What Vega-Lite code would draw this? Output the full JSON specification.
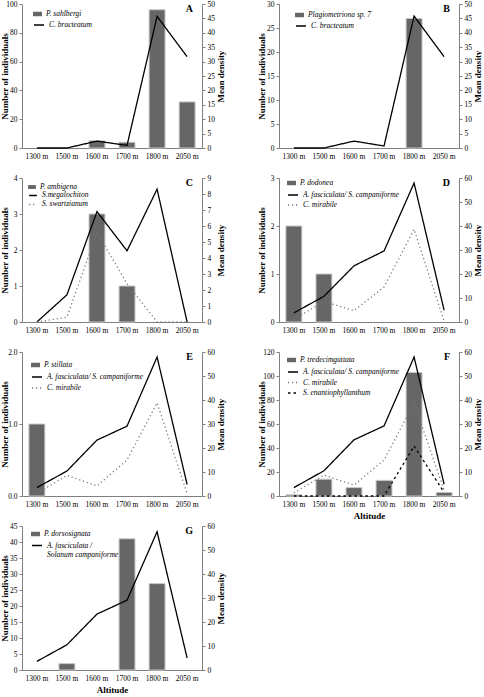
{
"$schema":"https://vega.github.io/schema/vega-lite/v6.json",
"padding":{"left":0,"top":0,"right":0,"bottom":0},
"background":"white",
"bounds":"flush",
"columns":2,
"spacing":{"row":30,"column":77},
"data":{"values":[
{"p":"A","k":"b","s":"P. sahlbergi","a":"1600 m","v":5},
{"p":"A","k":"b","s":"P. sahlbergi","a":"1700 m","v":4},
{"p":"A","k":"b","s":"P. sahlbergi","a":"1800 m","v":96},
{"p":"A","k":"b","s":"P. sahlbergi","a":"2050 m","v":32},
{"p":"A","k":"l","s":"C. bracteatum","a":"1300 m","v":0},
{"p":"A","k":"l","s":"C. bracteatum","a":"1500 m","v":0},
{"p":"A","k":"l","s":"C. bracteatum","a":"1600 m","v":2.4},
{"p":"A","k":"l","s":"C. bracteatum","a":"1700 m","v":0.9},
{"p":"A","k":"l","s":"C. bracteatum","a":"1800 m","v":45.7},
{"p":"A","k":"l","s":"C. bracteatum","a":"2050 m","v":31.7},
{"p":"B","k":"b","s":"Plagiometriona sp. 7","a":"1800 m","v":27},
{"p":"B","k":"l","s":"C. bracteatum","a":"1300 m","v":0},
{"p":"B","k":"l","s":"C. bracteatum","a":"1500 m","v":0},
{"p":"B","k":"l","s":"C. bracteatum","a":"1600 m","v":2.4},
{"p":"B","k":"l","s":"C. bracteatum","a":"1700 m","v":0.7},
{"p":"B","k":"l","s":"C. bracteatum","a":"1800 m","v":45.8},
{"p":"B","k":"l","s":"C. bracteatum","a":"2050 m","v":31.7},
{"p":"C","k":"b","s":"P. ambigena","a":"1600 m","v":3},
{"p":"C","k":"b","s":"P. ambigena","a":"1700 m","v":1},
{"p":"C","k":"l","s":"S.megalochiton","a":"1300 m","v":0},
{"p":"C","k":"l","s":"S.megalochiton","a":"1500 m","v":1.7},
{"p":"C","k":"l","s":"S.megalochiton","a":"1600 m","v":6.9},
{"p":"C","k":"l","s":"S.megalochiton","a":"1700 m","v":4.45},
{"p":"C","k":"l","s":"S.megalochiton","a":"1800 m","v":8.3},
{"p":"C","k":"l","s":"S.megalochiton","a":"2050 m","v":0},
{"p":"C","k":"l","s":"S. swartzianum","a":"1300 m","v":0},
{"p":"C","k":"l","s":"S. swartzianum","a":"1500 m","v":0.3},
{"p":"C","k":"l","s":"S. swartzianum","a":"1600 m","v":5.6},
{"p":"C","k":"l","s":"S. swartzianum","a":"1700 m","v":2.4},
{"p":"C","k":"l","s":"S. swartzianum","a":"1800 m","v":0},
{"p":"C","k":"l","s":"S. swartzianum","a":"2050 m","v":0},
{"p":"D","k":"b","s":"P. dodonea","a":"1300 m","v":2},
{"p":"D","k":"b","s":"P. dodonea","a":"1500 m","v":1},
{"p":"D","k":"l","s":"A. fasciculata/ S. campaniforme","a":"1300 m","v":3.8},
{"p":"D","k":"l","s":"A. fasciculata/ S. campaniforme","a":"1500 m","v":10.7},
{"p":"D","k":"l","s":"A. fasciculata/ S. campaniforme","a":"1600 m","v":23.4},
{"p":"D","k":"l","s":"A. fasciculata/ S. campaniforme","a":"1700 m","v":29.6},
{"p":"D","k":"l","s":"A. fasciculata/ S. campaniforme","a":"1800 m","v":57.9},
{"p":"D","k":"l","s":"A. fasciculata/ S. campaniforme","a":"2050 m","v":4.9},
{"p":"D","k":"l","s":"C. mirabile","a":"1300 m","v":1.1},
{"p":"D","k":"l","s":"C. mirabile","a":"1500 m","v":8.6},
{"p":"D","k":"l","s":"C. mirabile","a":"1600 m","v":4.7},
{"p":"D","k":"l","s":"C. mirabile","a":"1700 m","v":14.6},
{"p":"D","k":"l","s":"C. mirabile","a":"1800 m","v":38.6},
{"p":"D","k":"l","s":"C. mirabile","a":"2050 m","v":0.3},
{"p":"E","k":"b","s":"P. stillata","a":"1300 m","v":1},
{"p":"E","k":"l","s":"A. fasciculata/ S. campaniforme","a":"1300 m","v":3.5},
{"p":"E","k":"l","s":"A. fasciculata/ S. campaniforme","a":"1500 m","v":10.4},
{"p":"E","k":"l","s":"A. fasciculata/ S. campaniforme","a":"1600 m","v":23.3},
{"p":"E","k":"l","s":"A. fasciculata/ S. campaniforme","a":"1700 m","v":29.1},
{"p":"E","k":"l","s":"A. fasciculata/ S. campaniforme","a":"1800 m","v":57.9},
{"p":"E","k":"l","s":"A. fasciculata/ S. campaniforme","a":"2050 m","v":4.8},
{"p":"E","k":"l","s":"C. mirabile","a":"1300 m","v":1.1},
{"p":"E","k":"l","s":"C. mirabile","a":"1500 m","v":8.6},
{"p":"E","k":"l","s":"C. mirabile","a":"1600 m","v":4.2},
{"p":"E","k":"l","s":"C. mirabile","a":"1700 m","v":15},
{"p":"E","k":"l","s":"C. mirabile","a":"1800 m","v":38.8},
{"p":"E","k":"l","s":"C. mirabile","a":"2050 m","v":1},
{"p":"F","k":"b","s":"P. tredecimguttata","a":"1300 m","v":1},
{"p":"F","k":"b","s":"P. tredecimguttata","a":"1500 m","v":14},
{"p":"F","k":"b","s":"P. tredecimguttata","a":"1600 m","v":7},
{"p":"F","k":"b","s":"P. tredecimguttata","a":"1700 m","v":13},
{"p":"F","k":"b","s":"P. tredecimguttata","a":"1800 m","v":103},
{"p":"F","k":"b","s":"P. tredecimguttata","a":"2050 m","v":3},
{"p":"F","k":"l","s":"A. fasciculata/ S. campaniforme","a":"1300 m","v":3.5},
{"p":"F","k":"l","s":"A. fasciculata/ S. campaniforme","a":"1500 m","v":10.5},
{"p":"F","k":"l","s":"A. fasciculata/ S. campaniforme","a":"1600 m","v":23.4},
{"p":"F","k":"l","s":"A. fasciculata/ S. campaniforme","a":"1700 m","v":29.2},
{"p":"F","k":"l","s":"A. fasciculata/ S. campaniforme","a":"1800 m","v":57.9},
{"p":"F","k":"l","s":"A. fasciculata/ S. campaniforme","a":"2050 m","v":4.9},
{"p":"F","k":"l","s":"C. mirabile","a":"1300 m","v":1.3},
{"p":"F","k":"l","s":"C. mirabile","a":"1500 m","v":8.7},
{"p":"F","k":"l","s":"C. mirabile","a":"1600 m","v":4.5},
{"p":"F","k":"l","s":"C. mirabile","a":"1700 m","v":15},
{"p":"F","k":"l","s":"C. mirabile","a":"1800 m","v":38.7},
{"p":"F","k":"l","s":"C. mirabile","a":"2050 m","v":2.4},
{"p":"F","k":"l","s":"S. enantiophyllanthum","a":"1300 m","v":0},
{"p":"F","k":"l","s":"S. enantiophyllanthum","a":"1500 m","v":0},
{"p":"F","k":"l","s":"S. enantiophyllanthum","a":"1600 m","v":0},
{"p":"F","k":"l","s":"S. enantiophyllanthum","a":"1700 m","v":0},
{"p":"F","k":"l","s":"S. enantiophyllanthum","a":"1800 m","v":20.8},
{"p":"F","k":"l","s":"S. enantiophyllanthum","a":"2050 m","v":1.5},
{"p":"G","k":"b","s":"P. dorsosignata","a":"1500 m","v":2},
{"p":"G","k":"b","s":"P. dorsosignata","a":"1700 m","v":41},
{"p":"G","k":"b","s":"P. dorsosignata","a":"1800 m","v":27},
{"p":"G","k":"l","s":"A. fasciculata / Solanum campaniforme","a":"1300 m","v":3.6},
{"p":"G","k":"l","s":"A. fasciculata / Solanum campaniforme","a":"1500 m","v":10.5},
{"p":"G","k":"l","s":"A. fasciculata / Solanum campaniforme","a":"1600 m","v":23.3},
{"p":"G","k":"l","s":"A. fasciculata / Solanum campaniforme","a":"1700 m","v":29.1},
{"p":"G","k":"l","s":"A. fasciculata / Solanum campaniforme","a":"1800 m","v":57.6},
{"p":"G","k":"l","s":"A. fasciculata / Solanum campaniforme","a":"2050 m","v":5}
]},
"concat":[
{"width":180,"height":144,
 "title":{"text":"A"},
 "transform":[{"filter":"datum.p == 'A'"}],
 "layer":[
  {"transform":[{"filter":"datum.k == 'b'"}],
   "mark":{"type":"bar","stroke":"#c8c8c8","strokeWidth":1},
   "encoding":{
    "x":{"field":"a","type":"ordinal","scale":{"domain":["1300 m","1500 m","1600 m","1700 m","1800 m","2050 m"],"paddingInner":0.47,"paddingOuter":0.23},"axis":{"title":null}},
    "y":{"field":"v","type":"quantitative","scale":{"domain":[0,100],"nice":false},"axis":{"orient":"left","values":[0,20,40,60,80,100],"title":"Number of individuals"}},
    "fill":{"field":"s","type":"nominal","scale":{"range":["#666666"]},"legend":{"title":null,"orient":"none","legendX":11,"legendY":5.5,"symbolType":"M-1,-0.5H1V0.5H-1Z","symbolSize":80,"symbolStrokeWidth":0}}}},
  {"transform":[{"filter":"datum.k == 'l'"}],
   "mark":{"type":"line","strokeWidth":1.3},
   "encoding":{
    "x":{"field":"a","type":"ordinal","bandPosition":0.5,"scale":{"domain":["1300 m","1500 m","1600 m","1700 m","1800 m","2050 m"],"paddingInner":0.47,"paddingOuter":0.23},"axis":{"title":null}},
    "y":{"field":"v","type":"quantitative","scale":{"domain":[0,50],"nice":false},"axis":{"orient":"right","values":[0,5,10,15,20,25,30,35,40,45,50],"title":"Mean density"}},
    "strokeDash":{"field":"s","type":"nominal","scale":{"domain":["C. bracteatum"],"range":[[1,0]]},"legend":{"title":null,"orient":"none","legendX":11,"legendY":15,"symbolType":"stroke","symbolSize":100}},
    "stroke":{"field":"s","type":"nominal","scale":{"domain":["C. bracteatum"],"range":["#000000"]},"legend":{"title":null,"orient":"none","legendX":11,"legendY":15,"symbolType":"stroke","symbolSize":100}}}}
 ],
 "resolve":{"scale":{"y":"independent"}}},
{"width":180,"height":144,
 "title":{"text":"B"},
 "transform":[{"filter":"datum.p == 'B'"}],
 "layer":[
  {"transform":[{"filter":"datum.k == 'b'"}],
   "mark":{"type":"bar","stroke":"#c8c8c8","strokeWidth":1},
   "encoding":{
    "x":{"field":"a","type":"ordinal","scale":{"domain":["1300 m","1500 m","1600 m","1700 m","1800 m","2050 m"],"paddingInner":0.47,"paddingOuter":0.23},"axis":{"title":null}},
    "y":{"field":"v","type":"quantitative","scale":{"domain":[0,30],"nice":false},"axis":{"orient":"left","values":[0,5,10,15,20,25,30],"title":"Number of individuals"}},
    "fill":{"field":"s","type":"nominal","scale":{"range":["#666666"]},"legend":{"title":null,"orient":"none","legendX":16,"legendY":6.5,"symbolType":"M-1,-0.5H1V0.5H-1Z","symbolSize":80,"symbolStrokeWidth":0}}}},
  {"transform":[{"filter":"datum.k == 'l'"}],
   "mark":{"type":"line","strokeWidth":1.3},
   "encoding":{
    "x":{"field":"a","type":"ordinal","bandPosition":0.5,"scale":{"domain":["1300 m","1500 m","1600 m","1700 m","1800 m","2050 m"],"paddingInner":0.47,"paddingOuter":0.23},"axis":{"title":null}},
    "y":{"field":"v","type":"quantitative","scale":{"domain":[0,50],"nice":false},"axis":{"orient":"right","values":[0,5,10,15,20,25,30,35,40,45,50],"title":"Mean density"}},
    "strokeDash":{"field":"s","type":"nominal","scale":{"domain":["C. bracteatum"],"range":[[1,0]]},"legend":{"title":null,"orient":"none","legendX":16,"legendY":16,"symbolType":"stroke","symbolSize":100}},
    "stroke":{"field":"s","type":"nominal","scale":{"domain":["C. bracteatum"],"range":["#000000"]},"legend":{"title":null,"orient":"none","legendX":16,"legendY":16,"symbolType":"stroke","symbolSize":100}}}}
 ],
 "resolve":{"scale":{"y":"independent"}}},
{"width":180,"height":144,
 "title":{"text":"C"},
 "transform":[{"filter":"datum.p == 'C'"}],
 "layer":[
  {"transform":[{"filter":"datum.k == 'b'"}],
   "mark":{"type":"bar","stroke":"#c8c8c8","strokeWidth":1},
   "encoding":{
    "x":{"field":"a","type":"ordinal","scale":{"domain":["1300 m","1500 m","1600 m","1700 m","1800 m","2050 m"],"paddingInner":0.47,"paddingOuter":0.23},"axis":{"title":null}},
    "y":{"field":"v","type":"quantitative","scale":{"domain":[0,4],"nice":false},"axis":{"orient":"left","values":[0,1,2,3,4],"title":"Number of individuals"}},
    "fill":{"field":"s","type":"nominal","scale":{"range":["#666666"]},"legend":{"title":null,"orient":"none","legendX":6,"legendY":5,"symbolType":"M-1,-0.5H1V0.5H-1Z","symbolSize":60,"symbolStrokeWidth":0}}}},
  {"transform":[{"filter":"datum.k == 'l'"}],
   "mark":{"type":"line","strokeWidth":1.3},
   "encoding":{
    "x":{"field":"a","type":"ordinal","bandPosition":0.5,"scale":{"domain":["1300 m","1500 m","1600 m","1700 m","1800 m","2050 m"],"paddingInner":0.47,"paddingOuter":0.23},"axis":{"title":null}},
    "y":{"field":"v","type":"quantitative","scale":{"domain":[0,9],"nice":false},"axis":{"orient":"right","values":[0,1,2,3,4,5,6,7,8,9],"title":"Mean density"}},
    "strokeDash":{"field":"s","type":"nominal","scale":{"domain":["S.megalochiton","S. swartzianum"],"range":[[1,0],[1.2,2.8]]},"legend":{"title":null,"orient":"none","legendX":6,"legendY":12.4,"symbolType":"stroke","symbolSize":60,"rowPadding":0}},
    "stroke":{"field":"s","type":"nominal","scale":{"domain":["S.megalochiton","S. swartzianum"],"range":["#000000","#777777"]},"legend":{"title":null,"orient":"none","legendX":6,"legendY":12.4,"symbolType":"stroke","symbolSize":60,"rowPadding":0}}}}
 ],
 "resolve":{"scale":{"y":"independent"}}},
{"width":180,"height":144,
 "title":{"text":"D"},
 "transform":[{"filter":"datum.p == 'D'"}],
 "layer":[
  {"transform":[{"filter":"datum.k == 'b'"}],
   "mark":{"type":"bar","stroke":"#c8c8c8","strokeWidth":1},
   "encoding":{
    "x":{"field":"a","type":"ordinal","scale":{"domain":["1300 m","1500 m","1600 m","1700 m","1800 m","2050 m"],"paddingInner":0.47,"paddingOuter":0.23},"axis":{"title":null}},
    "y":{"field":"v","type":"quantitative","scale":{"domain":[0,3],"nice":false},"axis":{"orient":"left","values":[0,1,2,3],"title":"Number of individuals"}},
    "fill":{"field":"s","type":"nominal","scale":{"range":["#666666"]},"legend":{"title":null,"orient":"none","legendX":8,"legendY":0.5,"symbolType":"M-1,-0.5H1V0.5H-1Z","symbolSize":80,"symbolStrokeWidth":0}}}},
  {"transform":[{"filter":"datum.k == 'l'"}],
   "mark":{"type":"line","strokeWidth":1.3},
   "encoding":{
    "x":{"field":"a","type":"ordinal","bandPosition":0.5,"scale":{"domain":["1300 m","1500 m","1600 m","1700 m","1800 m","2050 m"],"paddingInner":0.47,"paddingOuter":0.23},"axis":{"title":null}},
    "y":{"field":"v","type":"quantitative","scale":{"domain":[0,60],"nice":false},"axis":{"orient":"right","values":[0,10,20,30,40,50,60],"title":"Mean density"}},
    "strokeDash":{"field":"s","type":"nominal","scale":{"domain":["A. fasciculata/ S. campaniforme","C. mirabile"],"range":[[1,0],[1.2,2.8]]},"legend":{"title":null,"orient":"none","legendX":8,"legendY":11,"symbolType":"stroke","symbolSize":100,"rowPadding":0}},
    "stroke":{"field":"s","type":"nominal","scale":{"domain":["A. fasciculata/ S. campaniforme","C. mirabile"],"range":["#000000","#777777"]},"legend":{"title":null,"orient":"none","legendX":8,"legendY":11,"symbolType":"stroke","symbolSize":100,"rowPadding":0}}}}
 ],
 "resolve":{"scale":{"y":"independent"}}},
{"width":180,"height":144,
 "title":{"text":"E"},
 "transform":[{"filter":"datum.p == 'E'"}],
 "layer":[
  {"transform":[{"filter":"datum.k == 'b'"}],
   "mark":{"type":"bar","stroke":"#c8c8c8","strokeWidth":1},
   "encoding":{
    "x":{"field":"a","type":"ordinal","scale":{"domain":["1300 m","1500 m","1600 m","1700 m","1800 m","2050 m"],"paddingInner":0.47,"paddingOuter":0.23},"axis":{"title":null}},
    "y":{"field":"v","type":"quantitative","scale":{"domain":[0,2],"nice":false},"axis":{"orient":"left","values":[0,1,2],"title":"Number of individuals"}},
    "fill":{"field":"s","type":"nominal","scale":{"range":["#666666"]},"legend":{"title":null,"orient":"none","legendX":9,"legendY":8.5,"symbolType":"M-1,-0.5H1V0.5H-1Z","symbolSize":80,"symbolStrokeWidth":0}}}},
  {"transform":[{"filter":"datum.k == 'l'"}],
   "mark":{"type":"line","strokeWidth":1.3},
   "encoding":{
    "x":{"field":"a","type":"ordinal","bandPosition":0.5,"scale":{"domain":["1300 m","1500 m","1600 m","1700 m","1800 m","2050 m"],"paddingInner":0.47,"paddingOuter":0.23},"axis":{"title":null}},
    "y":{"field":"v","type":"quantitative","scale":{"domain":[0,60],"nice":false},"axis":{"orient":"right","values":[0,10,20,30,40,50,60],"title":"Mean density"}},
    "strokeDash":{"field":"s","type":"nominal","scale":{"domain":["A. fasciculata/ S. campaniforme","C. mirabile"],"range":[[1,0],[1.2,2.8]]},"legend":{"title":null,"orient":"none","legendX":9,"legendY":19,"symbolType":"stroke","symbolSize":100,"rowPadding":1}},
    "stroke":{"field":"s","type":"nominal","scale":{"domain":["A. fasciculata/ S. campaniforme","C. mirabile"],"range":["#000000","#777777"]},"legend":{"title":null,"orient":"none","legendX":9,"legendY":19,"symbolType":"stroke","symbolSize":100,"rowPadding":1}}}}
 ],
 "resolve":{"scale":{"y":"independent"}}},
{"width":180,"height":144,
 "title":{"text":"F"},
 "transform":[{"filter":"datum.p == 'F'"}],
 "layer":[
  {"transform":[{"filter":"datum.k == 'b'"}],
   "mark":{"type":"bar","stroke":"#c8c8c8","strokeWidth":1},
   "encoding":{
    "x":{"field":"a","type":"ordinal","scale":{"domain":["1300 m","1500 m","1600 m","1700 m","1800 m","2050 m"],"paddingInner":0.47,"paddingOuter":0.23},"axis":{"title":"Altitude"}},
    "y":{"field":"v","type":"quantitative","scale":{"domain":[0,120],"nice":false},"axis":{"orient":"left","values":[0,20,40,60,80,100,120],"title":"Number of individuals"}},
    "fill":{"field":"s","type":"nominal","scale":{"range":["#666666"]},"legend":{"title":null,"orient":"none","legendX":8,"legendY":3.5,"symbolType":"M-1,-0.5H1V0.5H-1Z","symbolSize":80,"symbolStrokeWidth":0}}}},
  {"transform":[{"filter":"datum.k == 'l'"}],
   "mark":{"type":"line","strokeWidth":1.3},
   "encoding":{
    "x":{"field":"a","type":"ordinal","bandPosition":0.5,"scale":{"domain":["1300 m","1500 m","1600 m","1700 m","1800 m","2050 m"],"paddingInner":0.47,"paddingOuter":0.23},"axis":{"title":"Altitude"}},
    "y":{"field":"v","type":"quantitative","scale":{"domain":[0,60],"nice":false},"axis":{"orient":"right","values":[0,10,20,30,40,50,60],"title":"Mean density"}},
    "strokeDash":{"field":"s","type":"nominal","scale":{"domain":["A. fasciculata/ S. campaniforme","C. mirabile","S. enantiophyllanthum"],"range":[[1,0],[1.2,2.8],[2.5,3]]},"legend":{"title":null,"orient":"none","legendX":8,"legendY":14,"symbolType":"stroke","symbolSize":100,"rowPadding":0.5}},
    "stroke":{"field":"s","type":"nominal","scale":{"domain":["A. fasciculata/ S. campaniforme","C. mirabile","S. enantiophyllanthum"],"range":["#000000","#777777","#000000"]},"legend":{"title":null,"orient":"none","legendX":8,"legendY":14,"symbolType":"stroke","symbolSize":100,"rowPadding":0.5}}}}
 ],
 "resolve":{"scale":{"y":"independent"}}},
{"width":180,"height":144,
 "title":{"text":"G"},
 "transform":[{"filter":"datum.p == 'G'"}],
 "layer":[
  {"transform":[{"filter":"datum.k == 'b'"}],
   "mark":{"type":"bar","stroke":"#c8c8c8","strokeWidth":1},
   "encoding":{
    "x":{"field":"a","type":"ordinal","scale":{"domain":["1300 m","1500 m","1600 m","1700 m","1800 m","2050 m"],"paddingInner":0.47,"paddingOuter":0.23},"axis":{"title":"Altitude"}},
    "y":{"field":"v","type":"quantitative","scale":{"domain":[0,45],"nice":false},"axis":{"orient":"left","values":[0,5,10,15,20,25,30,35,40,45],"title":"Number of individuals"}},
    "fill":{"field":"s","type":"nominal","scale":{"range":["#666666"]},"legend":{"title":null,"orient":"none","legendX":9,"legendY":3.5,"symbolType":"M-1,-0.5H1V0.5H-1Z","symbolSize":80,"symbolStrokeWidth":0}}}},
  {"transform":[{"filter":"datum.k == 'l'"}],
   "mark":{"type":"line","strokeWidth":1.3},
   "encoding":{
    "x":{"field":"a","type":"ordinal","bandPosition":0.5,"scale":{"domain":["1300 m","1500 m","1600 m","1700 m","1800 m","2050 m"],"paddingInner":0.47,"paddingOuter":0.23},"axis":{"title":"Altitude"}},
    "y":{"field":"v","type":"quantitative","scale":{"domain":[0,60],"nice":false},"axis":{"orient":"right","values":[0,10,20,30,40,50,60],"title":"Mean density"}},
    "strokeDash":{"field":"s","type":"nominal","scale":{"domain":["A. fasciculata / Solanum campaniforme"],"range":[[1,0]]},"legend":{"title":null,"orient":"none","legendX":9,"legendY":13.5,"symbolType":"stroke","symbolSize":100,"labelExpr":"['A. fasciculata /', 'Solanum campaniforme']"}},
    "stroke":{"field":"s","type":"nominal","scale":{"domain":["A. fasciculata / Solanum campaniforme"],"range":["#000000"]},"legend":{"title":null,"orient":"none","legendX":9,"legendY":13.5,"symbolType":"stroke","symbolSize":100,"labelExpr":"['A. fasciculata /', 'Solanum campaniforme']"}}}}
 ],
 "resolve":{"scale":{"y":"independent"}}}
],
"resolve":{"scale":{"x":"independent","y":"independent","fill":"independent","stroke":"independent","strokeDash":"independent"},"legend":{"fill":"independent","stroke":"independent","strokeDash":"independent"}},
"config":{
 "font":"Liberation Serif",
 "view":{"stroke":null},
 "title":{"font":"Liberation Serif","fontSize":10,"fontWeight":"bold","color":"black","anchor":"end","frame":"group","offset":-14,"dx":-9},
 "axis":{"labelFont":"Liberation Serif","titleFont":"Liberation Serif","labelFontSize":7.5,"titleFontSize":9,"titleFontWeight":"bold","labelColor":"black","titleColor":"black","domainColor":"#808080","tickColor":"#808080","grid":false,"tickSize":3,"labelPadding":2,"domainWidth":1,"tickWidth":1},
 "axisX":{"ticks":false,"tickSize":0,"labelPadding":4,"labelAngle":0,"titlePadding":4},
 "axisLeft":{"titleAngle":270,"titleX":-18,"titleY":72,"titleBaseline":"middle"},
 "axisRight":{"titleAngle":270,"titleX":18,"titleY":72,"titleBaseline":"middle"},
 "legend":{"labelFont":"Liberation Serif","labelFontSize":7.5,"labelFontStyle":"italic","labelColor":"black","padding":0,"labelOffset":4,"rowPadding":0.5}
}
}
